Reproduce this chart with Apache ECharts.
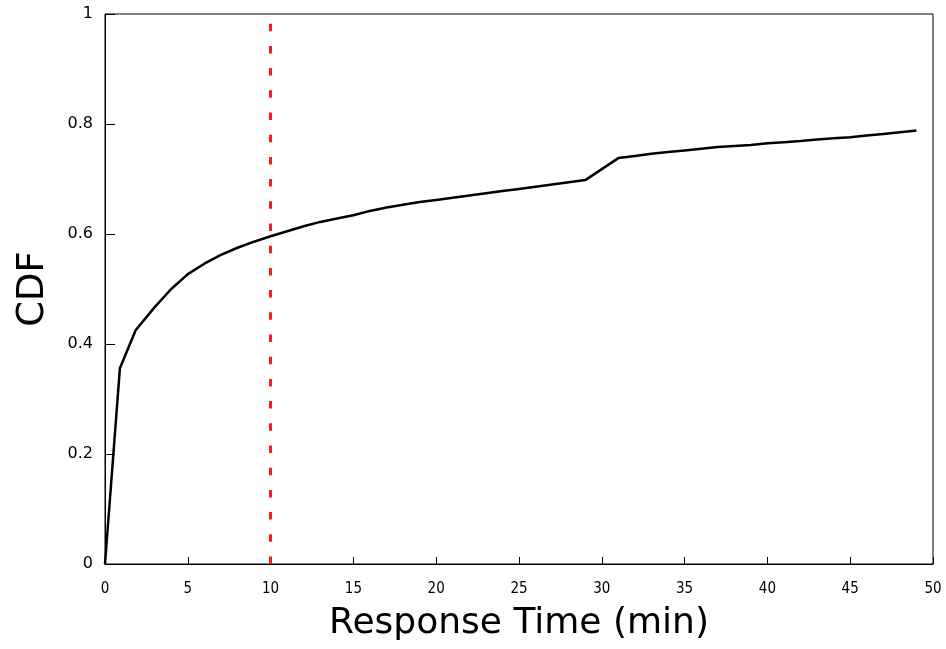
<!DOCTYPE html>
<html>
<head>
<meta charset="utf-8">
<script src="https://cdn.jsdelivr.net/npm/echarts@6/dist/echarts.min.js"></script>
<style>
html,body{margin:0;padding:0;background:#fff;}
#chart{width:946px;height:649px;}
</style>
</head>
<body>
<div id="chart"></div>
<script>
var responseTimes = [0, 0.9, 1.85, 3, 4, 5, 6, 7, 8, 9, 10, 11, 12, 13, 14, 15, 16, 17, 18, 19, 20, 21, 22, 23, 24, 25, 26, 27, 28, 29, 31, 32, 33, 34, 35, 36, 37, 38, 39, 40, 41, 42, 43, 44, 45, 46, 47, 48, 49];
var cdfValues = [0, 0.356, 0.425, 0.467, 0.500, 0.527, 0.546, 0.562, 0.575, 0.586, 0.596, 0.605, 0.614, 0.622, 0.628, 0.634, 0.642, 0.648, 0.653, 0.658, 0.662, 0.666, 0.670, 0.674, 0.678, 0.682, 0.686, 0.690, 0.694, 0.698, 0.738, 0.742, 0.746, 0.749, 0.752, 0.755, 0.758, 0.760, 0.762, 0.765, 0.767, 0.769, 0.772, 0.774, 0.776, 0.779, 0.782, 0.785, 0.788];
var thresholdMinutes = [10];
var xTicks = [0, 5, 10, 15, 20, 25, 30, 35, 40, 45, 50];
var yTicks = [0, 0.2, 0.4, 0.6, 0.8, 1];

var points = responseTimes.map(function (x, i) { return [x, cdfValues[i]]; });

var chart = echarts.init(document.getElementById('chart'));
chart.setOption({
  animation: false,
  backgroundColor: '#fff',
  grid: {
    left: 105, right: 13, top: 14, bottom: 85,
    show: true, borderColor: '#000', borderWidth: 1, backgroundColor: 'transparent'
  },
  xAxis: {
    type: 'value',
    min: xTicks[0], max: xTicks[xTicks.length - 1], interval: 5,
    name: 'Response Time (min)',
    nameLocation: 'middle',
    nameGap: 42,
    nameTextStyle: { fontFamily: 'DejaVu Sans', fontSize: 36, color: '#000' },
    axisLine: { show: true, lineStyle: { color: '#000', width: 1 } },
    axisTick: { show: true, inside: true, length: 7, lineStyle: { color: '#000' } },
    axisLabel: { fontFamily: 'DejaVu Sans Condensed', fontSize: 15, color: '#000', margin: 18 },
    splitLine: { show: false }
  },
  yAxis: {
    type: 'value',
    min: yTicks[0], max: yTicks[yTicks.length - 1], interval: 0.2,
    name: 'CDF',
    nameLocation: 'middle',
    nameGap: 53,
    nameTextStyle: { fontFamily: 'DejaVu Sans', fontSize: 37, color: '#000' },
    axisLine: { show: true, lineStyle: { color: '#000', width: 1 } },
    axisTick: { show: true, inside: true, length: 10, lineStyle: { color: '#000' } },
    axisLabel: { fontFamily: 'DejaVu Sans', fontSize: 16, color: '#000', margin: 12 },
    splitLine: { show: false }
  },
  series: [{
    type: 'line',
    data: points,
    showSymbol: false,
    symbol: 'none',
    lineStyle: { color: '#000', width: 2.5 },
    markLine: {
      silent: true,
      symbol: 'none',
      label: { show: false },
      lineStyle: { color: '#ff1a1a', width: 3, type: [7.5, 14.7] },
      data: thresholdMinutes.map(function (v) { return { xAxis: v }; })
    }
  }]
});
</script>
</body>
</html>
